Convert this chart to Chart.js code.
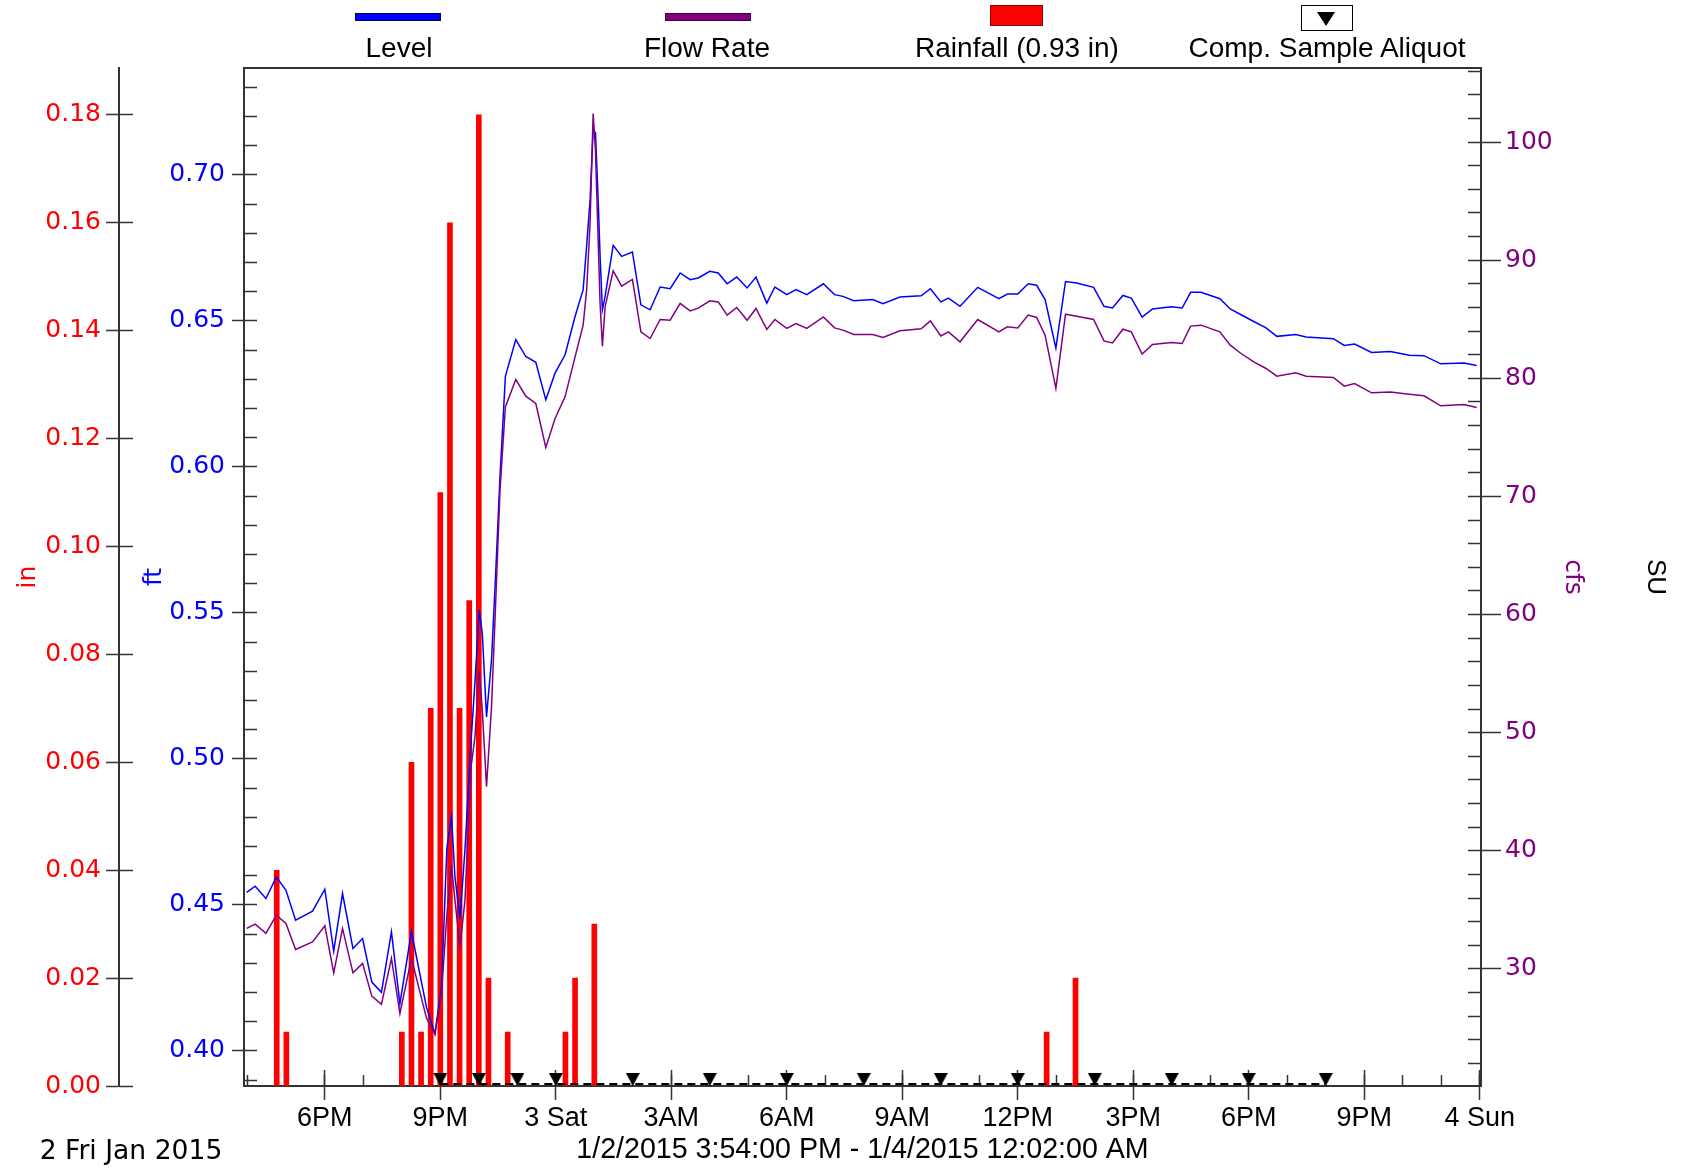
<!DOCTYPE html>
<html>
<head>
<meta charset="utf-8">
<script src="https://cdn.jsdelivr.net/npm/chart.js@4.4.1/dist/chart.umd.min.js"></script>
<style>
  body { margin: 0; background: #fff; }
  #wrap { position: relative; width: 1686px; height: 1168px; }
  #myChart { position: absolute; left: 0; top: 0; }
  .lg-text { position: absolute; width: 300px; text-align: center; font: 28px "Liberation Sans", Arial, sans-serif; line-height: 30px; color: #000; top: 33px; }
  .lg-line { position: absolute; top: 13px; height: 8px; width: 86px; box-sizing: border-box; }
  .lg-box { position: absolute; top: 5px; box-sizing: border-box; }
  #dayLabel { position: absolute; left: 0; width: 262px; top: 1134px; text-align: center; font: 26.6px "DejaVu Sans", sans-serif; line-height: 32px; color: #000; }
</style>
</head>
<body>
<div id="wrap">
  <canvas id="myChart" width="1686" height="1168"></canvas>

  <div class="lg-line" style="left:355px; background:#0000ff; border:1px solid #000050;"></div>
  <div class="lg-text" style="left:249px;">Level</div>

  <div class="lg-line" style="left:665px; background:#800080; border:1px solid #400040;"></div>
  <div class="lg-text" style="left:557px;">Flow Rate</div>

  <div class="lg-box" style="left:990px; width:53px; height:21px; background:#ff0000; border:1px solid #900000;"></div>
  <div class="lg-text" style="left:867px;">Rainfall (0.93 in)</div>

  <div class="lg-box" style="left:1301px; width:52px; height:26px; background:#fff; border:1px solid #000;"></div>
  <div style="position:absolute; left:1317px; top:12px; width:0; height:0; border-left:9px solid transparent; border-right:9px solid transparent; border-top:14px solid #000;"></div>
  <div class="lg-text" style="left:1177px;">Comp. Sample Aliquot</div>

  <div id="dayLabel">2 Fri Jan 2015</div>
</div>

<script>
// time is in hours from midnight Jan 2 2015 (24 = midnight Jan 3)
var xMin = 15.9;        // 3:54 PM
var xMax = 48 + 2 / 60; // 12:02 AM Jan 4

// rainfall, 15 minute totals (in)
var rainHours = [16.75, 17.0, 20.0, 20.25, 20.5, 20.75, 21.0, 21.25, 21.5, 21.75, 22.0, 22.25, 22.75, 24.25, 24.5, 25.0, 36.75, 37.5];
var rainIn = [0.04, 0.01, 0.01, 0.06, 0.01, 0.07, 0.11, 0.16, 0.07, 0.09, 0.18, 0.02, 0.01, 0.01, 0.02, 0.03, 0.01, 0.02];

// level (ft) and flow rate (cfs) readings
var flowHours = [15.97, 16.19, 16.47, 16.74, 16.99, 17.24, 17.68, 18.00, 18.23, 18.46, 18.73, 18.98, 19.22, 19.47, 19.73, 19.95,
  20.25, 20.64, 20.86, 21.03, 21.17, 21.29, 21.38, 21.51, 21.64, 21.80, 21.90, 22.01, 22.09, 22.20, 22.33, 22.43, 22.55, 22.69,
  22.96, 23.22, 23.48, 23.74, 23.98, 24.24, 24.50, 24.71, 24.80, 24.89, 24.97, 25.03, 25.10, 25.15, 25.21, 25.28, 25.49, 25.71,
  25.99, 26.21, 26.45, 26.71, 26.97, 27.23, 27.49, 27.70, 28.00, 28.22, 28.45, 28.70, 28.97, 29.20, 29.48, 29.69, 30.00, 30.24,
  30.52, 30.95, 31.24, 31.46, 31.74, 32.23, 32.50, 32.94, 33.49, 33.73, 34.00, 34.20, 34.50, 34.96, 35.51, 35.73, 36.00, 36.27,
  36.49, 36.71, 36.99, 37.24, 37.53, 37.97, 38.24, 38.46, 38.73, 38.95, 39.23, 39.50, 39.99, 40.27, 40.49, 40.76, 41.25, 41.52,
  41.80, 42.13, 42.45, 42.73, 43.22, 43.49, 44.20, 44.48, 44.75, 45.19, 45.68, 46.17, 46.55, 46.99, 47.59, 47.92];
var levelFt = [0.4543, 0.4564, 0.4522, 0.4596, 0.4550, 0.4448, 0.4479, 0.4554, 0.4342, 0.4539, 0.4351, 0.4385, 0.4236, 0.4201, 0.4408, 0.4162,
  0.4408, 0.4150, 0.4059, 0.4219, 0.4694, 0.4802, 0.4596, 0.4453, 0.4688, 0.5065, 0.5264, 0.5510, 0.5431, 0.5144, 0.5339, 0.5613, 0.5967, 0.6310,
  0.6436, 0.6378, 0.6358, 0.6230, 0.6321, 0.6384, 0.6515, 0.6607, 0.6755, 0.6915, 0.7155, 0.7144, 0.6915, 0.6721, 0.6538, 0.6584, 0.6759, 0.6721,
  0.6736, 0.6555, 0.6538, 0.6616, 0.6610, 0.6664, 0.6641, 0.6647, 0.6670, 0.6664, 0.6627, 0.6650, 0.6613, 0.6650, 0.6561, 0.6616, 0.6590, 0.6607,
  0.6590, 0.6627, 0.6590, 0.6584, 0.6569, 0.6573, 0.6559, 0.6582, 0.6586, 0.6610, 0.6565, 0.6578, 0.6550, 0.6615, 0.6576, 0.6592, 0.6592, 0.6627,
  0.6622, 0.6573, 0.6407, 0.6635, 0.6630, 0.6615, 0.6550, 0.6544, 0.6587, 0.6578, 0.6513, 0.6541, 0.6548, 0.6544, 0.6598, 0.6598, 0.6576, 0.6541,
  0.6521, 0.6498, 0.6476, 0.6447, 0.6453, 0.6445, 0.6439, 0.6416, 0.6421, 0.6392, 0.6395, 0.6382, 0.6381, 0.6353, 0.6356, 0.6347];
var flowCfs = [33.43, 33.79, 33.01, 34.56, 33.85, 31.65, 32.29, 33.65, 29.67, 33.43, 29.67, 30.47, 27.70, 27.00, 30.89, 26.23,
  30.89, 25.84, 24.48, 27.93, 34.56, 38.79, 35.82, 31.87, 35.82, 47.17, 49.65, 55.29, 51.91, 45.42, 52.19, 60.37, 70.53, 77.58,
  79.90, 78.49, 77.87, 74.15, 76.60, 78.43, 81.82, 84.50, 87.46, 93.11, 102.42, 99.31, 91.70, 86.34, 82.72, 86.05, 89.10, 87.80,
  88.37, 83.93, 83.37, 84.98, 84.92, 86.34, 85.71, 85.94, 86.56, 86.47, 85.35, 86.00, 84.92, 85.91, 84.14, 84.98, 84.22, 84.64,
  84.22, 85.20, 84.27, 84.08, 83.71, 83.71, 83.46, 84.02, 84.19, 84.86, 83.59, 83.93, 83.09, 84.98, 83.93, 84.36, 84.27, 85.35,
  85.15, 83.65, 79.14, 85.43, 85.26, 84.98, 83.17, 83.00, 84.16, 83.93, 82.05, 82.87, 83.04, 82.95, 84.42, 84.50, 83.93, 82.81,
  82.10, 81.39, 80.83, 80.18, 80.46, 80.18, 80.07, 79.34, 79.56, 78.77, 78.85, 78.66, 78.52, 77.67, 77.79, 77.53];

// composite sampler aliquots
var aliquotHours = [21, 22, 23, 24, 26, 28, 30, 32, 34, 36, 38, 40, 42, 44];

// tick labels
var xTickHours = [18, 21, 24, 27, 30, 33, 36, 39, 42, 45, 48];
var xTickLabels = ["6PM", "9PM", "3 Sat", "3AM", "6AM", "9AM", "12PM", "3PM", "6PM", "9PM", "4 Sun"];
var inTicks = [0.00, 0.02, 0.04, 0.06, 0.08, 0.10, 0.12, 0.14, 0.16, 0.18];
var ftTicks = [0.40, 0.45, 0.50, 0.55, 0.60, 0.65, 0.70];
var cfsTicks = [30, 40, 50, 60, 70, 80, 90, 100];
var dateRange = "1/2/2015 3:54:00 PM - 1/4/2015 12:02:00 AM";

var hourTicks = [];
for (var h = 16; h <= 48; h++) hourTicks.push(h);
var ftMinorTicks = [];
for (var i = 39; i <= 73; i++) ftMinorTicks.push(i / 100);
var cfsMinorTicks = [];
for (var c = 22; c <= 106; c += 2) cfsMinorTicks.push(c);

function pts(xs, ys) {
  return xs.map(function (x, i) { return { x: x, y: ys[i] }; });
}
function setTicks(values) {
  return function (scale) { scale.ticks = values.map(function (v) { return { value: v }; }); };
}
function setWidth(w) { return function (scale) { scale.width = w; }; }
function setHeight(h) { return function (scale) { scale.height = h; }; }

// aliquot marker: down triangle sitting just above its point
var tri = document.createElement('canvas');
tri.width = 14;
tri.height = 22;
var tctx = tri.getContext('2d');
tctx.fillStyle = '#000';
tctx.beginPath();
tctx.moveTo(0, 0);
tctx.lineTo(14, 0);
tctx.lineTo(7, 13);
tctx.closePath();
tctx.fill();

var axisColor = "#333";
var sans = "'Liberation Sans', Arial, sans-serif";
var dejavu = "'DejaVu Sans', sans-serif";

// an axis that only draws extra tick marks (inside the plot)
function tickOnly(pos, weight, min, max, values, len) {
  var s = {
    type: "linear", position: pos, weight: weight, min: min, max: max, offset: false,
    afterBuildTicks: setTicks(values),
    ticks: { display: false, autoSkip: false },
    grid: { offset: false, drawOnChartArea: false, tickLength: len, tickColor: axisColor, tickWidth: 1.5 },
    border: { display: false }
  };
  if (pos === "bottom") s.afterFit = setHeight(0); else s.afterFit = setWidth(0);
  return s;
}

var ctx = document.getElementById('myChart').getContext('2d');
var chart = new Chart(ctx, {
  type: 'line',
  data: {
    datasets: [{
      type: 'line',
      label: "Comp. Sample Aliquot",
      data: aliquotHours.map(function (x) { return { x: x, y: 0 }; }),
      xAxisID: 'x', yAxisID: 'ySu',
      borderColor: '#000', borderWidth: 2, borderDash: [8, 5],
      pointStyle: tri, pointRadius: 7,
      clip: false, order: 0
    }, {
      type: 'line',
      label: "Flow Rate",
      data: pts(flowHours, flowCfs),
      xAxisID: 'x', yAxisID: 'yCfs',
      borderColor: '#800080', borderWidth: 1.5, pointRadius: 0, tension: 0,
      order: 1
    }, {
      type: 'line',
      label: "Level",
      data: pts(flowHours, levelFt),
      xAxisID: 'x', yAxisID: 'yFt',
      borderColor: '#0000ff', borderWidth: 1.5, pointRadius: 0, tension: 0,
      order: 2
    }, {
      type: 'bar',
      label: "Rainfall (0.93 in)",
      data: pts(rainHours, rainIn),
      xAxisID: 'x', yAxisID: 'yIn',
      backgroundColor: '#ff0000', borderWidth: 0, barThickness: 5,
      order: 3
    }]
  },
  options: {
    responsive: false,
    animation: false,
    devicePixelRatio: 1,
    events: [],
    layout: { padding: { top: 68, left: 0, right: 0, bottom: 0 } },
    plugins: { legend: { display: false }, tooltip: { enabled: false } },
    scales: {
      x: {
        type: 'linear', position: 'bottom', weight: 10, min: xMin, max: xMax, offset: false,
        afterBuildTicks: setTicks(xTickHours), afterFit: setHeight(82),
        ticks: {
          autoSkip: false, maxRotation: 0, padding: 2, color: '#000',
          font: { family: sans, size: 27 },
          callback: function (v, i) { return xTickLabels[i]; }
        },
        grid: { offset: false, drawOnChartArea: false, tickLength: 14, tickColor: axisColor, tickWidth: 1.5 },
        border: { color: axisColor, width: 2 },
        title: { display: true, text: dateRange, color: '#000', font: { family: sans, size: 28.6 }, padding: { top: 0, bottom: 1 } }
      },
      xMajorIn: tickOnly('bottom', 1, xMin, xMax, xTickHours, -16),
      xMinor: tickOnly('bottom', 0, xMin, xMax, hourTicks, -11),
      xTop: {
        type: 'linear', position: 'top', min: xMin, max: xMax, offset: false, afterFit: setHeight(0),
        ticks: { display: false }, grid: { display: false },
        border: { color: axisColor, width: 2 }
      },
      yIn: {
        type: 'linear', position: 'left', weight: 30, min: 0, max: 0.1887,
        afterBuildTicks: setTicks(inTicks), afterFit: setWidth(119),
        ticks: { autoSkip: false, padding: 5, color: '#ff0000', font: { family: dejavu, size: 25 },
          callback: function (v) { return v.toFixed(2); } },
        grid: { drawOnChartArea: false, tickLength: 13, tickColor: axisColor, tickWidth: 1.5 },
        border: { color: axisColor, width: 2 },
        title: { display: true, text: 'in', color: '#ff0000', font: { family: dejavu, size: 25 }, padding: { top: 13, bottom: 0 } }
      },
      yInInner: tickOnly('left', 20, 0, 0.1887, inTicks, -14),
      yFt: {
        type: 'linear', position: 'left', weight: 10, min: 0.388, max: 0.7366,
        afterBuildTicks: setTicks(ftTicks), afterFit: setWidth(125),
        ticks: { autoSkip: false, padding: 7, color: '#0000ff', font: { family: dejavu, size: 25 },
          callback: function (v) { return v.toFixed(2); } },
        grid: { drawOnChartArea: false, tickLength: 12, tickColor: axisColor, tickWidth: 1.5 },
        border: { color: axisColor, width: 2 },
        title: { display: true, text: 'ft', color: '#0000ff', font: { family: dejavu, size: 25 }, padding: { top: 20, bottom: 0 } }
      },
      yFtMinor: tickOnly('left', 0, 0.388, 0.7366, ftMinorTicks, -13),
      yCfsMinor: tickOnly('right', 0, 20.09, 106.27, cfsMinorTicks, -13),
      yCfs: {
        type: 'linear', position: 'right', weight: 10, min: 20.09, max: 106.27,
        afterBuildTicks: setTicks(cfsTicks), afterFit: setWidth(129),
        ticks: { autoSkip: false, padding: 4, color: '#800080', font: { family: dejavu, size: 25 } },
        grid: { drawOnChartArea: false, tickLength: 20, tickColor: axisColor, tickWidth: 1.5 },
        border: { color: axisColor, width: 2 },
        title: { display: true, text: 'cfs', color: '#800080', font: { family: dejavu, size: 25 }, padding: { top: 23, bottom: 0 } }
      },
      ySu: {
        type: 'linear', position: 'right', weight: 20, min: -0.2, max: 100,
        afterFit: setWidth(76),
        ticks: { display: false }, grid: { display: false }, border: { display: false },
        title: { display: true, text: 'SU', color: '#000', font: { family: sans, size: 26 }, padding: { top: 15, bottom: 0 } }
      }
    }
  }
});
</script>
</body>
</html>
